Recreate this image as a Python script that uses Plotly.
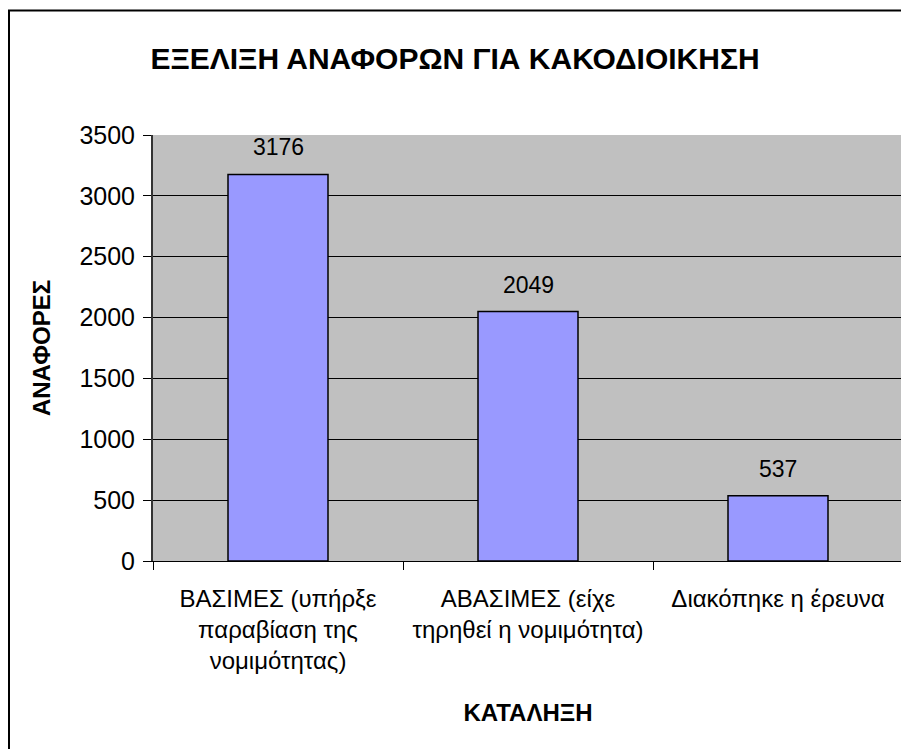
import plotly.graph_objects as go

categories = [
    "ΒΑΣΙΜΕΣ (υπήρξε<br>παραβίαση της<br>νομιμότητας)",
    "ΑΒΑΣΙΜΕΣ (είχε<br>τηρηθεί η νομιμότητα)",
    "Διακόπηκε η έρευνα",
]
values = [3176, 2049, 537]
y_ticks = [0, 500, 1000, 1500, 2000, 2500, 3000, 3500]

FONT = "Liberation Sans, Arial, sans-serif"

# page has an 8px body margin; figure fills the remaining window
W, H = 901, 741
L, R, T, B = 145, 6, 127, 188
PW, PH = W - L - R, H - T - B

fig = go.Figure()
fig.add_trace(go.Bar(
    x=categories, y=values,
    marker=dict(color="#9999FF", line=dict(color="black", width=1.5)),
    width=0.4,
    hoverinfo="x+y",
))

for c, v in zip(categories, values):
    fig.add_annotation(x=c, y=v, text=str(v), showarrow=False,
                       yanchor="bottom", yshift=12,
                       font=dict(family=FONT, size=23, color="black"))

fig.update_layout(
    width=W, height=H,
    margin=dict(l=L, r=R, t=T, b=B),
    paper_bgcolor="white",
    plot_bgcolor="#C0C0C0",
    showlegend=False,
    font=dict(family=FONT, size=22, color="black"),
    title=dict(text="<b>ΕΞΕΛΙΞΗ ΑΝΑΦΟΡΩΝ ΓΙΑ ΚΑΚΟΔΙΟΙΚΗΣΗ</b>",
               x=(455 - 8) / W, xref="container", xanchor="center",
               y=1 - 50 / H, yref="container", yanchor="middle",
               font=dict(family=FONT, size=30, color="black")),
    bargap=0.6,
)

fig.update_xaxes(
    showgrid=False,
    ticks="outside", ticklen=8, tickcolor="black", tickwidth=1,
    tickson="boundaries",
    ticklabelstandoff=16,
    showline=True, linecolor="black", linewidth=1,
    tickfont=dict(family=FONT, size=24, color="black"),
    title=dict(text="<b>ΚΑΤΑΛΗΞΗ</b>", standoff=30,
               font=dict(family=FONT, size=24, color="black")),
)
fig.update_yaxes(
    range=[0, 3500], tickvals=y_ticks,
    showgrid=True, gridcolor="black", gridwidth=1,
    ticks="outside", ticklen=8, tickcolor="black", tickwidth=1,
    ticklabelstandoff=3,
    showline=True, linecolor="#333333", linewidth=2,
    zeroline=False,
    tickfont=dict(family=FONT, size=25, color="black"),
    title=dict(text="<b>ΑΝΑΦΟΡΕΣ</b>", standoff=22,
               font=dict(family=FONT, size=24, color="black")),
)

# outer chart border
fig.add_shape(type="rect", xref="paper", yref="paper",
              x0=(1 - L) / PW, x1=1.2, y0=-0.6, y1=(PH + T - 2.5) / PH,
              line=dict(color="black", width=2), fillcolor="rgba(0,0,0,0)",
              layer="above")

fig.write_html("out.html")
